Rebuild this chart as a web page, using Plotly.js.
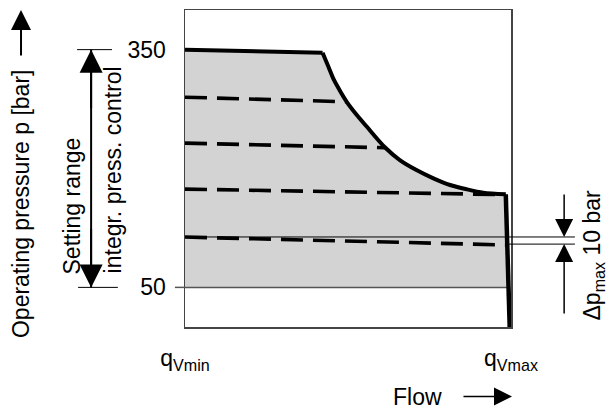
<!DOCTYPE html>
<html>
<head>
<meta charset="utf-8">
<script src="https://cdn.plot.ly/plotly-3.0.1.min.js"></script>
<style>html,body{margin:0;padding:0;background:#fff;}#chart{width:608px;height:412px;}</style>
</head>
<body>
<div id="chart"></div>
<script>
// Envelope (max pressure vs flow), flow in % of range, pressure in bar
const flowEnv = [0, 42.2, 44.0, 45.7, 47.7, 49.6, 52.7, 55.8, 61.3, 65.9, 71.0, 76.2, 81.3, 86.4, 91.5, 98.4, 99.6];
const pEnv    = [350, 346, 328.5, 311.7, 296.9, 284.2, 267.5, 252.6, 226.8, 210.7, 198.1, 187.6, 179.2, 173.8, 169.5, 167.5, 0];
const curveStart = 1, curveEnd = 15; // indices bounding the curved part

// Fill region (envelope above the 50 bar minimum)
const fillBase = 50;
const fillEndFlow = 99.3;

// Dashed setting lines
const set1Flow = [0, 49.6],  set1P = [290, 284.2];
const set2Flow = [0, 61.3],  set2P = [232, 226.2];
const set3Flow = [0, 98.2],  set3P = [174, 167];
const set4Flow = [0, 98.8],  set4P = [113.5, 103.5];

// Delta p reference levels
const dpUpper = 113.6, dpLower = 104.6;

// Axis ticks
const xTickVals = [0, 100];
const xTickText = ['q<sub>Vmin</sub>', 'q<sub>Vmax</sub>'];
const yTickVals = [50, 350];
const yTickText = ['50', '350'];
const rangeMin = 50, rangeMax = 350;

const FONT = 'Liberation Sans, Arial, Helvetica, sans-serif';
const FS = 23;

const fillX = flowEnv.slice(0, -1).concat([fillEndFlow, 0]);
const fillY = pEnv.slice(0, -1).concat([fillBase, fillBase]);

const dashStyle = {color: '#000', width: 3.6, dash: '22px,10px'};
const envLine = {color: '#000', width: 4};

const traces = [
  {x: fillX, y: fillY, mode: 'lines', fill: 'toself', fillcolor: '#d3d3d3',
   line: {width: 0}, hoverinfo: 'skip', showlegend: false},
  {x: [0, fillEndFlow], y: [fillBase, fillBase], mode: 'lines',
   line: {color: '#555', width: 1.5}, showlegend: false},
  {x: set1Flow, y: set1P, mode: 'lines', line: dashStyle, showlegend: false},
  {x: set2Flow, y: set2P, mode: 'lines', line: dashStyle, showlegend: false},
  {x: set3Flow, y: set3P, mode: 'lines', line: dashStyle, showlegend: false},
  {x: set4Flow, y: set4P, mode: 'lines', line: dashStyle, showlegend: false},
  {x: flowEnv.slice(0, curveStart + 1), y: pEnv.slice(0, curveStart + 1), mode: 'lines', line: envLine, showlegend: false},
  {x: flowEnv.slice(curveStart, curveEnd + 1), y: pEnv.slice(curveStart, curveEnd + 1), mode: 'lines',
   line: Object.assign({}, envLine, {shape: 'spline', smoothing: 0.8}), showlegend: false},
  {x: flowEnv.slice(curveEnd), y: pEnv.slice(curveEnd), mode: 'lines', line: Object.assign({}, envLine, {width: 4.5}), showlegend: false}
];

const blackLine = {color: '#000', width: 1};

const shapes = [
  {type: 'line', xref: 'paper', yref: 'y', x0: -0.031, x1: 0, y0: fillBase, y1: fillBase, line: {color: '#555', width: 1.5}},
  {type: 'line', xref: 'paper', yref: 'y', x0: -0.331, x1: -0.224, y0: rangeMax, y1: rangeMax, line: blackLine},
  {type: 'line', xref: 'paper', yref: 'y', x0: -0.328, x1: -0.206, y0: rangeMin, y1: rangeMin, line: blackLine},
  {type: 'line', xref: 'paper', yref: 'y', x0: -0.288, x1: -0.288, y0: rangeMin, y1: rangeMax, line: {color: '#000', width: 2}},
  {type: 'line', xref: 'paper', yref: 'y', x0: 0, x1: 1.196, y0: dpUpper, y1: dpUpper, line: blackLine},
  {type: 'line', xref: 'paper', yref: 'y', x0: 0.988, x1: 1.196, y0: dpLower, y1: dpLower, line: blackLine}
];

const arrowBase = {text: '', showarrow: true, arrowhead: 2, arrowcolor: '#000', axref: 'pixel', ayref: 'pixel', standoff: 0, startstandoff: 0};
const tf = {family: FONT, size: FS, color: '#000'};

const annotations = [
  {text: 'Operating pressure p [bar]', xref: 'paper', yref: 'paper', x: -0.503, y: 0.388,
   textangle: -90, showarrow: false, xanchor: 'center', yanchor: 'middle', font: tf},
  Object.assign({}, arrowBase, {xref: 'paper', yref: 'paper', x: -0.503, y: 1.0, ax: 0, ay: 47, arrowwidth: 2, arrowsize: 2}),
  {text: 'Setting range', xref: 'paper', yref: 'paper', x: -0.347, y: 0.383,
   textangle: -90, showarrow: false, xanchor: 'center', yanchor: 'middle', font: tf},
  {text: 'integr. press. control', xref: 'paper', yref: 'paper', x: -0.221, y: 0.497,
   textangle: -90, showarrow: false, xanchor: 'center', yanchor: 'middle', font: tf},
  Object.assign({}, arrowBase, {xref: 'paper', yref: 'y', x: -0.288, y: rangeMax, ax: 0, ay: 60, arrowwidth: 2, arrowsize: 2.3}),
  Object.assign({}, arrowBase, {xref: 'paper', yref: 'y', x: -0.288, y: rangeMin, ax: 0, ay: -60, arrowwidth: 2, arrowsize: 2.3}),
  Object.assign({}, arrowBase, {xref: 'paper', yref: 'y', x: 1.163, y: dpUpper, ax: 0, ay: -44, arrowwidth: 1.5, arrowsize: 2.4}),
  Object.assign({}, arrowBase, {xref: 'paper', yref: 'y', x: 1.163, y: dpLower, ax: 0, ay: 71, arrowwidth: 1.5, arrowsize: 2.4}),
  {text: 'Δp<sub>max</sub> 10 bar', xref: 'paper', yref: 'paper', x: 1.252, y: 0.226,
   textangle: -90, showarrow: false, xanchor: 'center', yanchor: 'middle', font: tf},
  {text: 'Flow', xref: 'paper', yref: 'paper', x: 0.713, y: -0.2685,
   showarrow: false, xanchor: 'center', yanchor: 'bottom', font: tf},
  Object.assign({}, arrowBase, {xref: 'paper', yref: 'paper', x: 1.003, y: -0.219, ax: -50, ay: 0, arrowwidth: 1.5, arrowsize: 2.4})
];

const axisCommon = {
  showline: true, mirror: true, linecolor: '#444', linewidth: 1.5,
  showgrid: false, zeroline: false, ticks: 'outside', ticklen: 12,
  tickcolor: 'rgba(0,0,0,0)', tickfont: tf, fixedrange: true
};

const layout = {
  width: 608, height: 412,
  margin: {l: 185, r: 97, t: 10, b: 85, pad: 0},
  paper_bgcolor: '#fff', plot_bgcolor: '#fff',
  font: tf,
  showlegend: false,
  xaxis: Object.assign({}, axisCommon, {range: [0, 100], tickvals: xTickVals, ticktext: xTickText, ticklen: 10}),
  yaxis: Object.assign({}, axisCommon, {range: [0, 400], tickvals: yTickVals, ticktext: yTickText, ticklen: 13}),
  shapes: shapes,
  annotations: annotations
};

Plotly.newPlot('chart', traces, layout, {displayModeBar: false, staticPlot: true});
</script>
</body>
</html>
